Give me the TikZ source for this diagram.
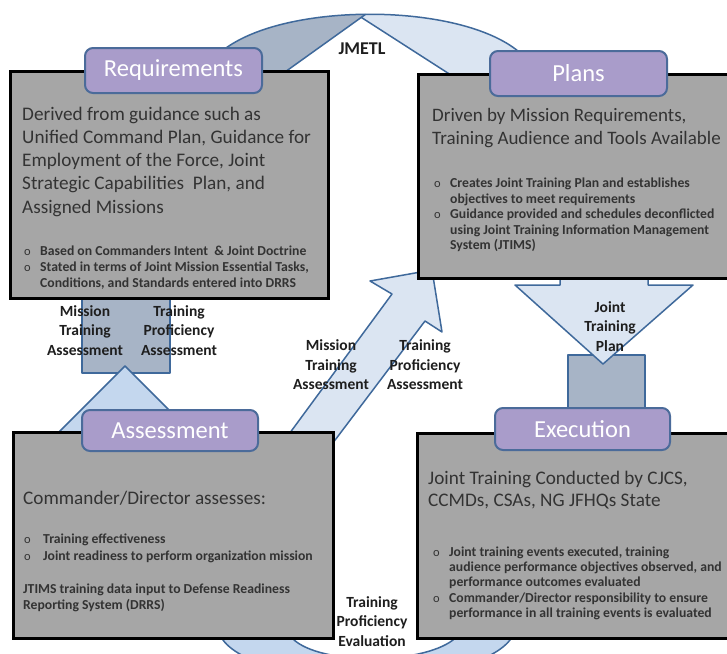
\documentclass[tikz,border=0pt]{standalone}
\usepackage{fontspec}
\setmainfont{Carlito}
\definecolor{panelfill}{HTML}{A6A6A6}
\definecolor{tabfill}{HTML}{A99CCA}
\definecolor{tabline}{HTML}{4B6B9A}
\definecolor{flowline}{HTML}{3F699B}
\definecolor{paleblue}{HTML}{DBE5F2}
\definecolor{softblue}{HTML}{C4D7EE}
\definecolor{slateblue}{HTML}{A7B4C6}
\definecolor{bodytext}{HTML}{333333}
\definecolor{labeltext}{HTML}{1E1E1E}
\newcommand{\stackl}[1]{\vtop{\halign{##\hfil\cr#1\crcr}}}
\begin{document}
\begin{tikzpicture}[x=1pt,y=-1pt,
  panel/.style={draw=black, line width=3pt, fill=panelfill, inner sep=0pt},
  tab/.style={draw=tabline, line width=2pt, fill=tabfill, rounded corners=8pt, text=white, inner sep=0pt, font=\fontsize{24.5}{29}\selectfont},
  body/.style={anchor=base west, inner sep=0pt, text=bodytext, font=\fontsize{19.2}{23.3}\selectfont},
  bultext/.style={anchor=base west, inner sep=0pt, text=bodytext, font=\bfseries\fontsize{13.7}{16}\selectfont},
  bulmark/.style={anchor=base west, inner sep=0pt, text=bodytext, font=\fontsize{12.5}{16}\selectfont},
  lab/.style={align=center, inner sep=0pt, text=labeltext, font=\bfseries\fontsize{15.5}{19.5}\selectfont},
  flow/.style={draw=flowline, line width=1.5pt, line join=round},
]
\useasboundingbox (0,0) rectangle (727,653);
\fill[white] (0,0) rectangle (727,653);

% JMETL band
\path[fill=paleblue] (205,72) .. controls (240,-5) and (500,-5) .. (535,72) -- (535,85) -- (466.4,85) -- (361.3,17.4) -- (266.8,85) -- (205,85) -- cycle;
\begin{scope}
\clip (0,-20) -- (413.5,-20) -- (266.8,85) -- (0,85) -- cycle;
\path[fill=slateblue] (205,72) .. controls (240,-5) and (500,-5) .. (535,72) -- (535,85) -- (466.4,85) -- (361.3,17.4) -- (266.8,85) -- (205,85) -- cycle;
\end{scope}
\draw[flow] (205,72) .. controls (240,-5) and (500,-5) .. (535,72);
\draw[flow] (285,72) -- (365.6,14.3);
\draw[flow] (454,77) -- (361.3,17.4);

% left up arrow
\draw[flow, fill=slateblue] (82,290) rectangle (170,373);
\draw[flow, fill=softblue] (125,366) -- (55,436) -- (195,436) -- cycle;

% diagonal arrow
\draw[flow, fill=paleblue] (270,460) -- (392,294) -- (370,281) -- (432,270) -- (442,332) -- (425,321) -- (320,460) -- cycle;

% down arrow
\draw[flow, fill=slateblue] (568,355) rectangle (645,420);
\draw[flow, fill=paleblue] (560,265) -- (560,285) -- (515,285) -- (603,364) -- (693,285) -- (648,285) -- (648,265) -- cycle;

% bottom band
\draw[flow, fill=softblue] (215,620) -- (223,640) .. controls (260,690) and (470,690) .. (510,640) -- (520,620) -- (465,620) -- (453,640) .. controls (420,665) and (320,665) .. (293,639) -- (280,620) -- cycle;

% panels
\node[panel, minimum width=318pt, minimum height=227pt] (reqbox) at (169,184.5) {};
\node[panel, minimum width=322pt, minimum height=204pt] (planbox) at (579,176) {};
\node[panel, minimum width=320pt, minimum height=206pt] (assbox) at (173,535) {};
\node[panel, minimum width=323pt, minimum height=205pt] (exebox) at (578.5,535.5) {};

% tabs
\node[tab, minimum width=177pt, minimum height=45pt] (reqtab) at (173.5,70.5) {Requirements};
\node[tab, minimum width=177pt, minimum height=45pt] (plantab) at (578.5,73.5) {Plans};
\node[tab, minimum width=176pt, minimum height=41pt] (asstab) at (170,430.5) {Assessment};
\node[tab, minimum width=175pt, minimum height=42pt] (exetab) at (582.5,429) {Execution};

% Requirements text
\node[body] (reqtext) at (22,120) {\stackl{Derived from guidance such as\cr Unified Command Plan, Guidance for\cr Employment of the Force, Joint\cr Strategic Capabilities\ \ Plan, and\cr Assigned Missions}};
\node[bulmark] (reqb1) at (24,255.5) {o};
\node[bultext] (reqt1) at (40,255.5) {Based on Commanders Intent\ \ \& Joint Doctrine};
\node[bulmark] (reqb2) at (24,271.5) {o};
\node[bultext] (reqt2) at (40,271.5) {\stackl{Stated in terms of Joint Mission Essential Tasks,\cr Conditions, and Standards entered into DRRS}};

% Plans text
\node[body, font=\fontsize{19}{23.3}\selectfont] (plantext) at (432,121) {\stackl{Driven by Mission Requirements,\cr Training Audience and Tools Available}};
\node[bulmark] (planb1) at (434,187.5) {o};
\node[bultext, font=\bfseries\fontsize{13.7}{15.5}\selectfont] (plant1) at (450,187.5) {\stackl{Creates Joint Training Plan and establishes\cr objectives to meet requirements}};
\node[bulmark] (planb2) at (434,218.5) {o};
\node[bultext, font=\bfseries\fontsize{13.7}{15.5}\selectfont] (plant2) at (450,218.5) {\stackl{Guidance provided and schedules deconflicted\cr using Joint Training Information Management\cr System (JTIMS)}};

% Assessment text
\node[body] (asstext) at (23,504) {Commander/Director assesses:};
\node[bulmark] (assb1) at (24,543.5) {o};
\node[bultext] (asst1) at (43,543.5) {Training effectiveness};
\node[bulmark] (assb2) at (24,560) {o};
\node[bultext] (asst2) at (43,560) {Joint readiness to perform organization mission};
\node[bultext] (asst3) at (23,593.5) {\stackl{JTIMS training data input to Defense Readiness\cr Reporting System (DRRS)}};

% Execution text
\node[body, font=\fontsize{19.2}{22.5}\selectfont] (exetext) at (428,484) {\stackl{Joint Training Conducted by CJCS,\cr CCMDs, CSAs, NG JFHQs State}};
\node[bulmark] (exeb1) at (433,556.5) {o};
\node[bultext, font=\bfseries\fontsize{13.7}{15.2}\selectfont] (exet1) at (449,556.5) {\stackl{Joint training events executed, training\cr audience performance objectives observed, and\cr performance outcomes evaluated}};
\node[bulmark] (exeb2) at (433,602) {o};
\node[bultext, font=\bfseries\fontsize{13.7}{15.5}\selectfont] (exet2) at (449,602) {\stackl{Commander/Director responsibility to ensure\cr performance in all training events is evaluated}};

% arrow labels
\node[lab, font=\bfseries\fontsize{18}{22}\selectfont] (jmetl) at (362,49) {JMETL};
\node[lab] (lmta) at (85,330.5) {Mission\\Training\\Assessment};
\node[lab] (ltpa) at (179,330.5) {Training\\Proficiency\\Assessment};
\node[lab] (dmta) at (331,365) {Mission\\Training\\Assessment};
\node[lab] (dtpa) at (425,365) {Training\\Proficiency\\Assessment};
\node[lab] (jtp) at (610,326.5) {Joint\\Training\\Plan};
\node[lab] (tpe) at (372,621.5) {Training\\Proficiency\\Evaluation};
\end{tikzpicture}
\end{document}
